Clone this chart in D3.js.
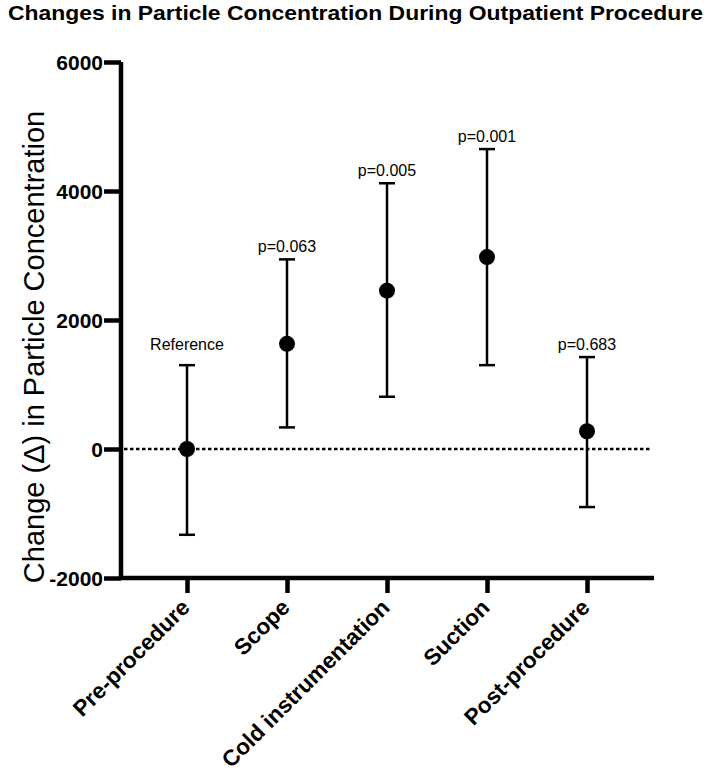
<!DOCTYPE html>
<html>
<head>
<meta charset="utf-8">
<script src="https://cdn.jsdelivr.net/npm/d3@7"></script>
<style>
  body { margin: 0; background: #fff; }
  text { font-family: "Liberation Sans", Arial, sans-serif; fill: #000; }
</style>
</head>
<body>
<div id="chart"></div>
<script>
// data
const categories = ["Pre-procedure", "Scope", "Cold instrumentation", "Suction", "Post-procedure"]
const means = [0, 1630, 2455, 2975, 275]
const upper = [1300, 2940, 4120, 4650, 1425]
const lower = [-1330, 335, 810, 1300, -900]
const pLabels = ["Reference", "p=0.063", "p=0.005", "p=0.001", "p=0.683"]
const yTicks = [-2000, 0, 2000, 4000, 6000]

const WIDTH = 709
const HEIGHT = 777

const svg = d3.select("#chart")
  .append("svg")
  .attr("width", WIDTH)
  .attr("height", HEIGHT)

// title (narrow bold in the original, squeeze it)
svg.append("text")
  .attr("x", 8)
  .attr("y", 20)
  .attr("font-size", 21)
  .attr("font-weight", "bold")
  .attr("textLength", 695)
  .attr("lengthAdjust", "spacingAndGlyphs")
  .text("Changes in Particle Concentration During Outpatient Procedure")

const y = d3.scaleLinear().domain([-2000, 6000]).range([578, 62])
const x = d3.scalePoint().domain(categories).range([187, 587])

const AXIS_LEFT = 121
const AXIS_RIGHT = 654

// y axis
const yAxis = svg.append("g")
  .attr("transform", `translate(${AXIS_LEFT},0)`)
  .call(d3.axisLeft(y).tickValues(yTicks).tickSize(17).tickPadding(1).tickFormat((d) => String(d)))
yAxis.select(".domain").attr("d", `M0,${y(6000)}V${y(-2000)}`).attr("stroke-width", 4.5)
yAxis.selectAll(".tick line").attr("stroke-width", 4.5)
yAxis.selectAll(".tick text")
  .attr("font-size", 21)
  .attr("font-weight", "bold")
  .attr("font-family", "Liberation Sans, Arial, sans-serif")
  .attr("dy", "0.36em")

// x axis
const xAxis = svg.append("g")
  .attr("transform", `translate(0,${y(-2000)})`)
  .call(d3.axisBottom(x).tickSize(15).tickFormat(""))
xAxis.select(".domain").attr("d", `M${AXIS_LEFT - 2},0H${AXIS_RIGHT}`).attr("stroke-width", 4.5)
xAxis.selectAll(".tick line").attr("stroke-width", 4.5)

svg.selectAll(".xlabel")
  .data(categories)
  .enter()
  .append("text")
  .attr("class", "xlabel")
  .attr("text-anchor", "end")
  .attr("font-size", 22.5)
  .attr("font-weight", "bold")
  .attr("transform", (d) => `translate(${x(d) + 4},${y(-2000) + 31}) rotate(-45)`)
  .text((d) => d)

// y axis title
svg.append("text")
  .attr("text-anchor", "middle")
  .attr("font-size", 29)
  .attr("transform", `translate(44,347) rotate(-90)`)
  .text("Change (\u0394) in Particle Concentration")

// zero reference line
svg.append("line")
  .attr("x1", AXIS_LEFT + 3)
  .attr("x2", 652)
  .attr("y1", y(0))
  .attr("y2", y(0))
  .attr("stroke", "#000")
  .attr("stroke-width", 2.5)
  .attr("stroke-dasharray", "3.5,2.5")

// error bars
const bars = svg.append("g")
categories.forEach((c, i) => {
  const cx = x(c)
  bars.append("line")
    .attr("x1", cx).attr("x2", cx)
    .attr("y1", y(upper[i])).attr("y2", y(lower[i]))
    .attr("stroke", "#000").attr("stroke-width", 2.5)
  ;[upper[i], lower[i]].forEach((v) => {
    bars.append("line")
      .attr("x1", cx - 8).attr("x2", cx + 8)
      .attr("y1", y(v)).attr("y2", y(v))
      .attr("stroke", "#000").attr("stroke-width", 2.5)
  })
  bars.append("circle")
    .attr("cx", cx)
    .attr("cy", y(means[i]))
    .attr("r", 8)
    .attr("fill", "#000")
  // reference label sits a little higher than the p values
  const gap = i === 0 ? 15 : 7
  bars.append("text")
    .attr("x", cx)
    .attr("y", y(upper[i]) - gap)
    .attr("text-anchor", "middle")
    .attr("font-size", 16)
    .text(pLabels[i])
})
</script>
</body>
</html>
